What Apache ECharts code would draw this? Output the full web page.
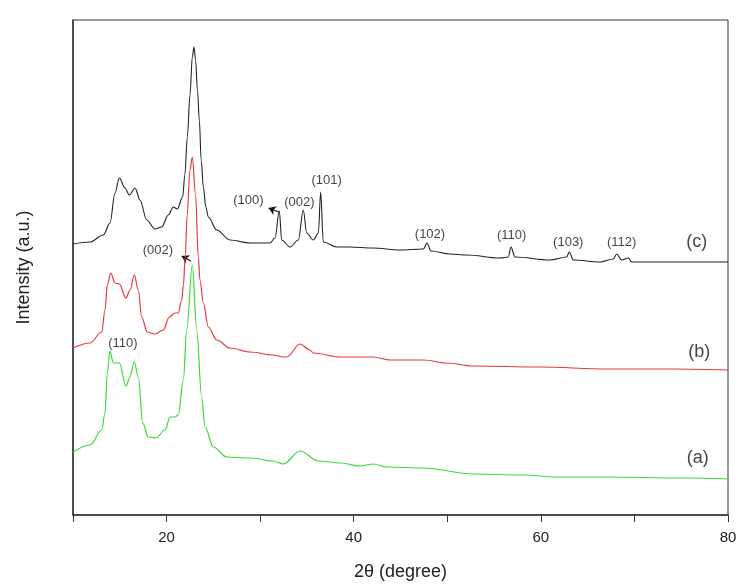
<!DOCTYPE html>
<html><head><meta charset="utf-8">
<script src="https://cdn.jsdelivr.net/npm/echarts@6/dist/echarts.min.js"></script>
<style>html,body{margin:0;padding:0;background:#fff}#c{width:746px;height:587px}</style>
</head><body><div id="c"></div>
<script>
// 2θ (degree) and intensity (a.u., offset stacked) for each pattern
const thetaC = [10,11.82,13.24,13.95,14.49,14.95,15.56,16.02,16.63,17.16,17.88,18.76,19.48,20.18,20.72,21.15,21.72,21.95,22.22,22.5,22.75,22.93,23.1,23.3,23.5,23.7,23.93,24.2,24.46,25.36,26.78,28.92,31.05,31.59,32.05,32.3,33.19,34.08,34.61,34.98,35.68,36.22,36.47,36.75,38.18,39.6,42.06,44.95,47.44,47.83,48.26,50.29,52.08,55.63,56.52,56.81,57.24,60.98,62.76,63.04,63.47,66.32,67.74,68.1,68.64,69.35,69.71,73.45,80];
const intC  = [271,273,280,292,322,337,327,320,327,315,295,286,288,300,308,306,318,340,378,420,458,468,455,425,395,355,328,308,298,285,275,272,272,277,304,275,268,275,305,282,275,282,323,273,268,268,267,265,266,272,264,261,260,257,258,268,258,255,258,263,255,253,256,261,255,257,253,253,253];

const thetaB = [10,11.82,13.07,13.42,13.67,14.03,14.49,14.95,15.66,16.09,16.55,16.98,17.34,17.94,18.76,19.65,20.29,20.9,21.25,21.62,21.8,22.0,22.2,22.5,22.75,23.1,23.39,23.57,23.93,24.46,25.36,26.78,28.92,31.41,32.48,32.84,34.26,35.33,35.68,38.53,42.09,43.88,47.44,49.93,52.78,59.91,67.04,74.16,80];
const intB  = [167,172,183,205,230,242,232,231,217,225,240,225,198,183,181,185,198,202,202,215,230,260,300,345,358,320,258,235,212,188,175,167,163,160,158,158,171,165,162,158,158,155,155,152,149,148,146,146,145];

const thetaA = [10,11.82,13.07,13.42,13.67,13.95,14.31,14.95,15.66,16.09,16.55,16.98,17.45,18.05,18.87,19.83,20.37,20.9,21.25,21.79,22.15,22.75,23.22,23.75,24.11,25.0,26.43,28.92,31.41,32.48,34.26,36.22,38.53,40.67,42.09,43.52,47.44,52.78,58.13,61.69,67.04,75.58,80];
const intA  = [63,70,85,102,142,164,152,152,129,138,153,138,92,78,77,85,98,98,100,135,185,250,185,118,88,68,58,57,54,51,64,54,52,49,51,48,47,41,40,38,38,37,36];

// x-axis tick labels
const xTickLabels = ['20','40','60','80'];

// peak annotations: [2θ, intensity, text]
const annoTheta = [28.75,34.19,37.11,48.15,56.88,62.93,68.64,19.08,15.34];
const annoInt   = [315,313,335,281,280,273,273,265,172];
const annoText  = ['(100)','(002)','(101)','(102)','(110)','(103)','(112)','(002)','(110)'];

// pattern tags
const tagTheta = [76.65,76.93,76.76];
const tagInt   = [273,163,57];
const tagText  = ['(c)','(b)','(a)'];

// arrows: tail (at peak) and head (at label)
const arrowTailTheta = [32.0,22.58];
const arrowTailInt   = [303,254];
const arrowHeadTheta = [30.9,21.62];
const arrowHeadInt   = [307,259];

const zip = (a,b)=>a.map((v,i)=>[v,b[i]]);
const chart = echarts.init(document.getElementById('c'));
const font = 'Liberation Sans, Arial, sans-serif';
chart.setOption({
  animation:false,
  grid:{left:73,right:18,top:20,bottom:72,show:true,borderColor:'#333',borderWidth:1},
  xAxis:{type:'value',min:10,max:80,interval:10,
    name:'2θ (degree)',nameLocation:'middle',nameGap:48,
    nameTextStyle:{fontSize:18,color:'#222',fontFamily:font},
    axisLine:{lineStyle:{color:'#333',width:1.5}},
    axisTick:{show:true,length:7,lineStyle:{color:'#333'}},
    axisLabel:{margin:15,fontSize:15,color:'#222',fontFamily:font,
      formatter:v=>xTickLabels.includes(String(v))?String(v):''},
    splitLine:{show:false}},
  yAxis:{type:'value',min:0,max:495,
    name:'Intensity (a.u.)',nameLocation:'middle',nameGap:40,
    nameTextStyle:{fontSize:18,color:'#222',fontFamily:font},
    axisLine:{show:true,lineStyle:{color:'#333',width:1.5}},
    axisTick:{show:false},axisLabel:{show:false},splitLine:{show:false}},
  series:[
    {type:'line',data:zip(thetaA,intA),showSymbol:false,smooth:0.35,smoothMonotone:'x',lineStyle:{color:'#3ad83a',width:1.2}},
    {type:'line',data:zip(thetaB,intB),showSymbol:false,smooth:0.35,smoothMonotone:'x',lineStyle:{color:'#e8383d',width:1.2}},
    {type:'line',data:zip(thetaC,intC),showSymbol:false,smooth:0.35,smoothMonotone:'x',lineStyle:{color:'#222',width:1.1}},
    {type:'scatter',symbolSize:0,silent:true,
      data:annoTheta.map((t,i)=>({value:[t,annoInt[i]],name:annoText[i]})),
      label:{show:true,position:'inside',formatter:p=>p.name,fontSize:13,color:'#111',fontFamily:font}},
    {type:'scatter',symbolSize:0,silent:true,
      data:tagTheta.map((t,i)=>({value:[t,tagInt[i]],name:tagText[i]})),
      label:{show:true,position:'inside',formatter:p=>p.name,fontSize:18,color:'#111',fontFamily:font}},
    {type:'lines',coordinateSystem:'cartesian2d',silent:true,
      symbol:['none','arrow'],symbolSize:7,
      lineStyle:{color:'#111',width:1.3,opacity:1,curveness:0},
      data:arrowTailTheta.map((t,i)=>({coords:[[t,arrowTailInt[i]],[arrowHeadTheta[i],arrowHeadInt[i]]]}))}
  ]
});
</script></body></html>
